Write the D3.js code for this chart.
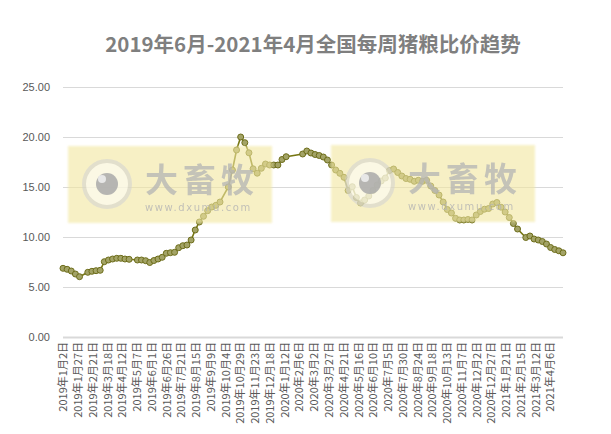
<!DOCTYPE html>
<html><head><meta charset="utf-8">
<script src="https://cdn.jsdelivr.net/npm/d3@7"></script>
<style>
html,body{margin:0;padding:0;background:#fff;}
svg{display:block;}
</style></head>
<body>
<svg id="c" width="611" height="434"></svg>
<script>
const titleText = "2019年6月-2021年4月全国每周猪粮比价趋势";
const dates = [
"2019-01-02","2019-01-09","2019-01-16","2019-01-23","2019-01-30",
"2019-02-13","2019-02-20","2019-02-27","2019-03-06","2019-03-13","2019-03-20","2019-03-27",
"2019-04-03","2019-04-10","2019-04-17","2019-04-24",
"2019-05-08","2019-05-15","2019-05-22","2019-05-29","2019-06-05","2019-06-12","2019-06-19","2019-06-26",
"2019-07-03","2019-07-10","2019-07-17","2019-07-24","2019-07-31","2019-08-07","2019-08-14","2019-08-21","2019-08-28",
"2019-09-04","2019-09-11","2019-09-18","2019-09-25",
"2019-10-09","2019-10-16","2019-10-23","2019-10-30","2019-11-06","2019-11-13","2019-11-20","2019-11-27",
"2019-12-04","2019-12-11","2019-12-18","2019-12-25","2020-01-01","2020-01-08","2020-01-15",
"2020-02-12","2020-02-19","2020-02-26","2020-03-04","2020-03-11","2020-03-18","2020-03-25",
"2020-04-01","2020-04-08","2020-04-15","2020-04-22","2020-04-29","2020-05-06","2020-05-13","2020-05-20","2020-05-27",
"2020-06-03","2020-06-10","2020-06-17","2020-06-24","2020-07-01","2020-07-08","2020-07-15","2020-07-22","2020-07-29",
"2020-08-05","2020-08-12","2020-08-19","2020-08-26","2020-09-02","2020-09-09","2020-09-16","2020-09-23","2020-09-30",
"2020-10-07","2020-10-14","2020-10-21","2020-10-28","2020-11-04","2020-11-11","2020-11-18","2020-11-25",
"2020-12-02","2020-12-09","2020-12-16","2020-12-23","2020-12-30","2021-01-06","2021-01-13","2021-01-20","2021-01-27",
"2021-02-03","2021-02-10","2021-02-24","2021-03-03","2021-03-10","2021-03-17","2021-03-24","2021-03-31",
"2021-04-07","2021-04-14","2021-04-21","2021-04-28"
];
const ratio = [
6.87,6.77,6.60,6.30,6.03,
6.47,6.57,6.63,6.67,7.53,7.70,7.80,
7.87,7.87,7.80,7.77,
7.70,7.70,7.63,7.45,7.65,7.80,7.97,8.37,
8.43,8.47,8.93,9.13,9.20,9.70,10.70,11.50,12.07,
12.63,13.00,13.17,13.50,
15.00,16.70,18.70,20.00,19.43,18.42,16.82,16.38,
16.87,17.30,17.20,17.20,17.20,17.75,18.03,
18.30,18.60,18.40,18.25,18.15,18.00,17.70,
17.20,16.70,16.37,15.97,14.65,15.03,13.95,13.40,13.70,
14.10,14.65,15.20,15.60,15.90,16.65,16.80,16.45,16.10,
15.85,15.77,15.57,15.67,15.57,15.67,15.10,14.65,14.20,
13.50,12.75,12.40,11.87,11.70,11.70,11.75,11.70,
12.20,12.55,12.78,12.85,13.30,13.45,12.98,12.50,11.95,
11.35,10.80,9.95,10.10,9.80,9.70,9.55,9.30,
8.95,8.75,8.62,8.42
];
const yTicks = [0,5,10,15,20,25];
const xTickDates = [
"2019-01-02","2019-01-27","2019-02-21","2019-03-18","2019-04-12","2019-05-07","2019-06-01","2019-06-26",
"2019-07-21","2019-08-15","2019-09-09","2019-10-04","2019-10-29","2019-11-23","2019-12-18","2020-01-12",
"2020-02-06","2020-03-02","2020-03-27","2020-04-21","2020-05-16","2020-06-10","2020-07-05","2020-07-30",
"2020-08-24","2020-09-18","2020-10-13","2020-11-07","2020-12-02","2020-12-27","2021-01-21","2021-02-15",
"2021-03-12","2021-04-06"
];
const axisStart = "2019-01-02", axisEnd = "2021-04-28";

const parse = d3.timeParse("%Y-%m-%d");
const data = dates.map((d,i)=>({date:parse(d), v:ratio[i]}));
const svg = d3.select("#c");
const L = 63, R = 563, T = 87, B = 337;
const x = d3.scaleTime().domain([parse(axisStart), parse(axisEnd)]).range([L, R]);
const y = d3.scaleLinear().domain([0,25]).range([B, T]);
const font = "'Noto Sans CJK SC','Noto Sans',sans-serif";

// title
svg.append("text").attr("x", 313).attr("y", 52).attr("text-anchor","middle")
  .attr("font-family", font).attr("font-weight","bold").attr("font-size", 20.5)
  .attr("fill","#7f7f7f").text(titleText);

// gridlines
const yAxis = d3.axisLeft(y).tickValues(yTicks).tickSize(-(R-L)).tickFormat(d3.format(".2f"));
const gy = svg.append("g").attr("transform",`translate(${L},0)`).call(yAxis);
gy.select(".domain").remove();
gy.selectAll(".tick line").attr("stroke","#d9d9d9").attr("stroke-width",1)
  .filter(d=>d===0).attr("stroke-width",2);
gy.selectAll(".tick text").attr("x",-13).attr("fill","#595959")
  .attr("font-family","'Liberation Sans Narrow','Liberation Sans',sans-serif").attr("font-size",11);

// x axis labels
const fmt = d => `${d.getFullYear()}年${d.getMonth()+1}月${d.getDate()}日`;
const xAxis = d3.axisBottom(x).tickValues(xTickDates.map(parse)).tickSize(0).tickFormat(fmt);
const gx = svg.append("g").attr("transform",`translate(0,${B})`).call(xAxis);
gx.select(".domain").remove();
gx.selectAll(".tick text").attr("fill","#595959").attr("font-family",font).attr("font-size",11)
  .attr("text-anchor","end").attr("transform","rotate(-90)").attr("x",-5).attr("y",0).attr("dy","0.35em");

// line
const line = d3.line().x(d=>x(d.date)).y(d=>y(d.v));
svg.append("path").datum(data).attr("d", line).attr("fill","none")
  .attr("stroke","#767612").attr("stroke-width",1.6);
svg.append("g").selectAll("circle").data(data).join("circle")
  .attr("cx", d=>x(d.date)).attr("cy", d=>y(d.v)).attr("r", 3)
  .attr("fill","#a3a366").attr("stroke","#6d6d1a").attr("stroke-width",1);

// watermarks
const defs = svg.append("defs");
defs.append("filter").attr("id","soft").append("feGaussianBlur").attr("stdDeviation",1.2);
function watermark(x0, y0){
  const g = svg.append("g").attr("transform",`translate(${x0},${y0})`);
  g.append("rect").attr("x",0).attr("y",0).attr("width",204).attr("height",77)
    .attr("fill","#f2e7a0").attr("opacity",0.6).attr("filter","url(#soft)");
  g.append("circle").attr("cx",39).attr("cy",38).attr("r",23).attr("fill","#ffffff").attr("opacity",0.55)
    .attr("stroke","#d2d2d2").attr("stroke-width",4);
  g.append("circle").attr("cx",39).attr("cy",38).attr("r",11).attr("fill","#a9a9a9").attr("opacity",0.85);
  g.append("circle").attr("cx",34).attr("cy",33).attr("r",4).attr("fill","#ececec").attr("opacity",0.9);
  g.append("text").attr("x",77).attr("y",46).attr("font-family",font).attr("font-weight","bold")
    .attr("font-size",33).attr("fill","#b4b4b4").attr("opacity",0.75).attr("letter-spacing",5).text("大畜牧");
  g.append("text").attr("x",77).attr("y",65).attr("font-family","'DejaVu Sans',sans-serif")
    .attr("font-size",10).attr("fill","#b4b4b4").attr("opacity",0.8).attr("letter-spacing",1.6).text("www.dxumu.com");
}
watermark(68,146);
watermark(331,145);
</script>
</body></html>
